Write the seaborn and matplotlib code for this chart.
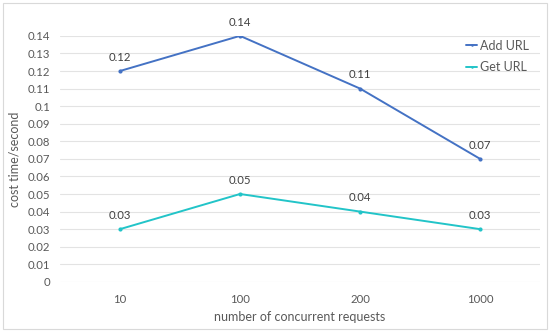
import pandas as pd
import seaborn as sns
import matplotlib.pyplot as plt

requests = ["10", "100", "200", "1000"]
add_url = [0.12, 0.14, 0.11, 0.07]
get_url = [0.03, 0.05, 0.04, 0.03]
yticks = [0, 0.01, 0.02, 0.03, 0.04, 0.05, 0.06, 0.07, 0.08, 0.09, 0.1, 0.11, 0.12, 0.13, 0.14]

df = pd.DataFrame({
    "requests": requests * 2,
    "cost": add_url + get_url,
    "series": ["Add URL"] * 4 + ["Get URL"] * 4,
})

sns.set_style("white")
plt.rcParams["font.family"] = ["Lato", "DejaVu Sans"]
text_color = "#595959"
palette = {"Add URL": "#4472C4", "Get URL": "#22C4C8"}

fig = plt.figure(figsize=(5.5, 3.32), dpi=100)
ax = fig.add_axes([0.109, 0.151, 0.873, 0.741])

sns.lineplot(data=df, x="requests", y="cost", hue="series", palette=palette,
             marker="o", markersize=3, markeredgewidth=0, linewidth=1.4, ax=ax,
             sort=False)

for series, vals in [("Add URL", add_url), ("Get URL", get_url)]:
    for i, v in enumerate(vals):
        ax.annotate(f"{v:g}", (i, v), xytext=(0, 6), textcoords="offset points",
                    ha="center", va="bottom", fontsize=8.2, color="#404040")

ax.set_xlim(-0.5, 3.5)
ax.set_ylim(0, 0.14)
ax.set_yticks(yticks)
ax.set_yticklabels([f"{t:g}" for t in yticks])
ax.grid(axis="y", color="#E3E3E3", linewidth=0.8)
ax.set_axisbelow(True)
for s in ax.spines.values():
    s.set_visible(False)
ax.tick_params(axis="both", length=0, labelsize=8.2, colors=text_color)
ax.tick_params(axis="x", pad=9)
ax.tick_params(axis="y", pad=7)
ax.set_xlabel("number of concurrent requests", fontsize=9, color=text_color, labelpad=4)
ax.set_ylabel("cost time/second", fontsize=9, color=text_color, labelpad=5)

leg = ax.legend(loc="upper right", bbox_to_anchor=(1.0, 1.03), frameon=False,
                fontsize=9, handlelength=0.9, handletextpad=0.2,
                labelspacing=0.75, markerscale=0.6)
for t in leg.get_texts():
    t.set_color(text_color)

fig.patches.append(plt.Rectangle((0.005, 0.01), 0.99, 0.98, transform=fig.transFigure,
                                 fill=False, edgecolor="#D9D9D9", linewidth=0.8))

fig.savefig("out.png", dpi=100)
